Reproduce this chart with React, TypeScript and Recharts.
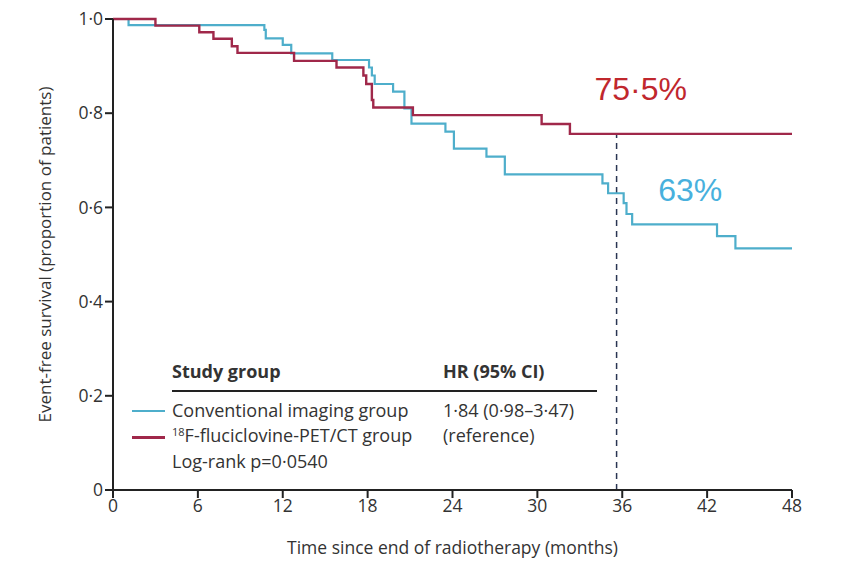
import React from 'react';
import { LineChart, Line, XAxis, YAxis, ReferenceLine, ReferenceDot } from 'recharts';

// Kaplan-Meier steps (months, proportion event-free)
const CONV_TIMES = [0, 1.1, 10.7, 10.8, 12.0, 12.6, 15.5, 18.1, 18.3, 18.5, 19.8, 20.6, 21.1, 23.5, 24.1, 26.4, 27.7, 34.6, 35.0, 36.1, 36.3, 36.7, 42.7, 44.0, 48];
const CONV_SURV = [1.0, 0.987, 0.977, 0.959, 0.945, 0.927, 0.913, 0.897, 0.88, 0.862, 0.846, 0.81, 0.778, 0.761, 0.725, 0.708, 0.67, 0.651, 0.63, 0.609, 0.586, 0.564, 0.539, 0.513, 0.513];

const PET_TIMES = [0, 3.0, 6.1, 7.1, 8.4, 8.8, 12.8, 15.8, 17.7, 17.9, 18.3, 18.4, 21.2, 30.3, 32.3, 48];
const PET_SURV = [1.0, 0.986, 0.972, 0.958, 0.942, 0.928, 0.911, 0.897, 0.88, 0.862, 0.828, 0.812, 0.796, 0.777, 0.756, 0.756];

const X_TICKS = [0, 6, 12, 18, 24, 30, 36, 42, 48];
const Y_TICKS = [0, 0.2, 0.4, 0.6, 0.8, 1.0];

const LANDMARK_MONTH = 35.6;
const PET_AT_LANDMARK = 0.755;

const convData = CONV_TIMES.map((t, i) => ({ t, s: CONV_SURV[i] }));
const petData = PET_TIMES.map((t, i) => ({ t, s: PET_SURV[i] }));

const CYAN = '#4eaecb';
const CRIMSON = '#a0284a';
const FONT = '"Open Sans", sans-serif';

const fmtY = (v: number) => (v === 0 ? '0' : v.toFixed(1).replace('.', '·'));

export default function App() {
  const txt = { position: 'absolute' as const, fontFamily: FONT, fontSize: 18, color: '#333', whiteSpace: 'nowrap' as const, lineHeight: 1 };
  return (
    <div style={{ position: 'absolute', left: 0, top: 0, width: 852, height: 578, background: '#fff' }}>
      <LineChart width={852} height={578} margin={{ top: 19, right: 60, bottom: 0, left: 13 }}>
        <XAxis
          type="number" dataKey="t" domain={[0, 48]} ticks={X_TICKS} height={88}
          stroke="#222" strokeWidth={2} tickSize={8}
          tick={{ fontSize: 17.5, fill: '#333', fontFamily: FONT }}
          label={{ value: 'Time since end of radiotherapy (months)', position: 'insideBottom', offset: 24, style: { fontSize: 17.5, fill: '#333', fontFamily: FONT } }}
        />
        <YAxis
          type="number" dataKey="s" domain={[0, 1]} ticks={Y_TICKS} width={100}
          stroke="#222" strokeWidth={2} tickSize={8} tickFormatter={fmtY}
          tick={{ fontSize: 17.5, fill: '#333', fontFamily: FONT }}
          label={{ value: 'Event-free survival (proportion of patients)', angle: -90, position: 'insideLeft', offset: 32, style: { textAnchor: 'middle', fontSize: 17, fill: '#333', fontFamily: FONT } }}
        />
        <ReferenceLine
          segment={[{ x: LANDMARK_MONTH, y: 0 }, { x: LANDMARK_MONTH, y: PET_AT_LANDMARK }]}
          stroke="#2a3552" strokeWidth={1.5} strokeDasharray="6 5"
        />
        <Line data={convData} dataKey="s" type="stepAfter" stroke={CYAN} strokeWidth={2.2} dot={false} isAnimationActive={false} />
        <Line data={petData} dataKey="s" type="stepAfter" stroke={CRIMSON} strokeWidth={2.4} dot={false} isAnimationActive={false} />
        <ReferenceDot x={37.3} y={0.853} r={0} fill="none" stroke="none"
          label={{ value: '75·5%', position: 'center', style: { fontSize: 32, fill: '#c0272d', fontFamily: '"Liberation Sans", Arial, sans-serif' } }} />
        <ReferenceDot x={40.8} y={0.637} r={0} fill="none" stroke="none"
          label={{ value: '63%', position: 'center', style: { fontSize: 32, fill: '#48b0dd', fontFamily: '"Liberation Sans", Arial, sans-serif' } }} />
      </LineChart>

      {/* legend table */}
      <div style={{ ...txt, left: 172, top: 362, fontWeight: 700 }}>Study group</div>
      <div style={{ ...txt, left: 443, top: 362, fontWeight: 700 }}>HR (95% CI)</div>
      <div style={{ position: 'absolute', left: 172, top: 390, width: 425, height: 2, background: '#222' }} />
      <div style={{ position: 'absolute', left: 132, top: 410, width: 33, height: 2, background: CYAN }} />
      <div style={{ ...txt, left: 172, top: 401 }}>Conventional imaging group</div>
      <div style={{ ...txt, left: 443, top: 401 }}>1·84 (0·98–3·47)</div>
      <div style={{ position: 'absolute', left: 132, top: 436, width: 33, height: 2.5, background: CRIMSON }} />
      <div style={{ ...txt, left: 172, top: 426 }}><sup style={{ fontSize: 11, verticalAlign: 6 }}>18</sup>F-fluciclovine-PET/CT group</div>
      <div style={{ ...txt, left: 443, top: 426 }}>(reference)</div>
      <div style={{ ...txt, left: 172, top: 452 }}>Log-rank p=0·0540</div>
    </div>
  );
}
